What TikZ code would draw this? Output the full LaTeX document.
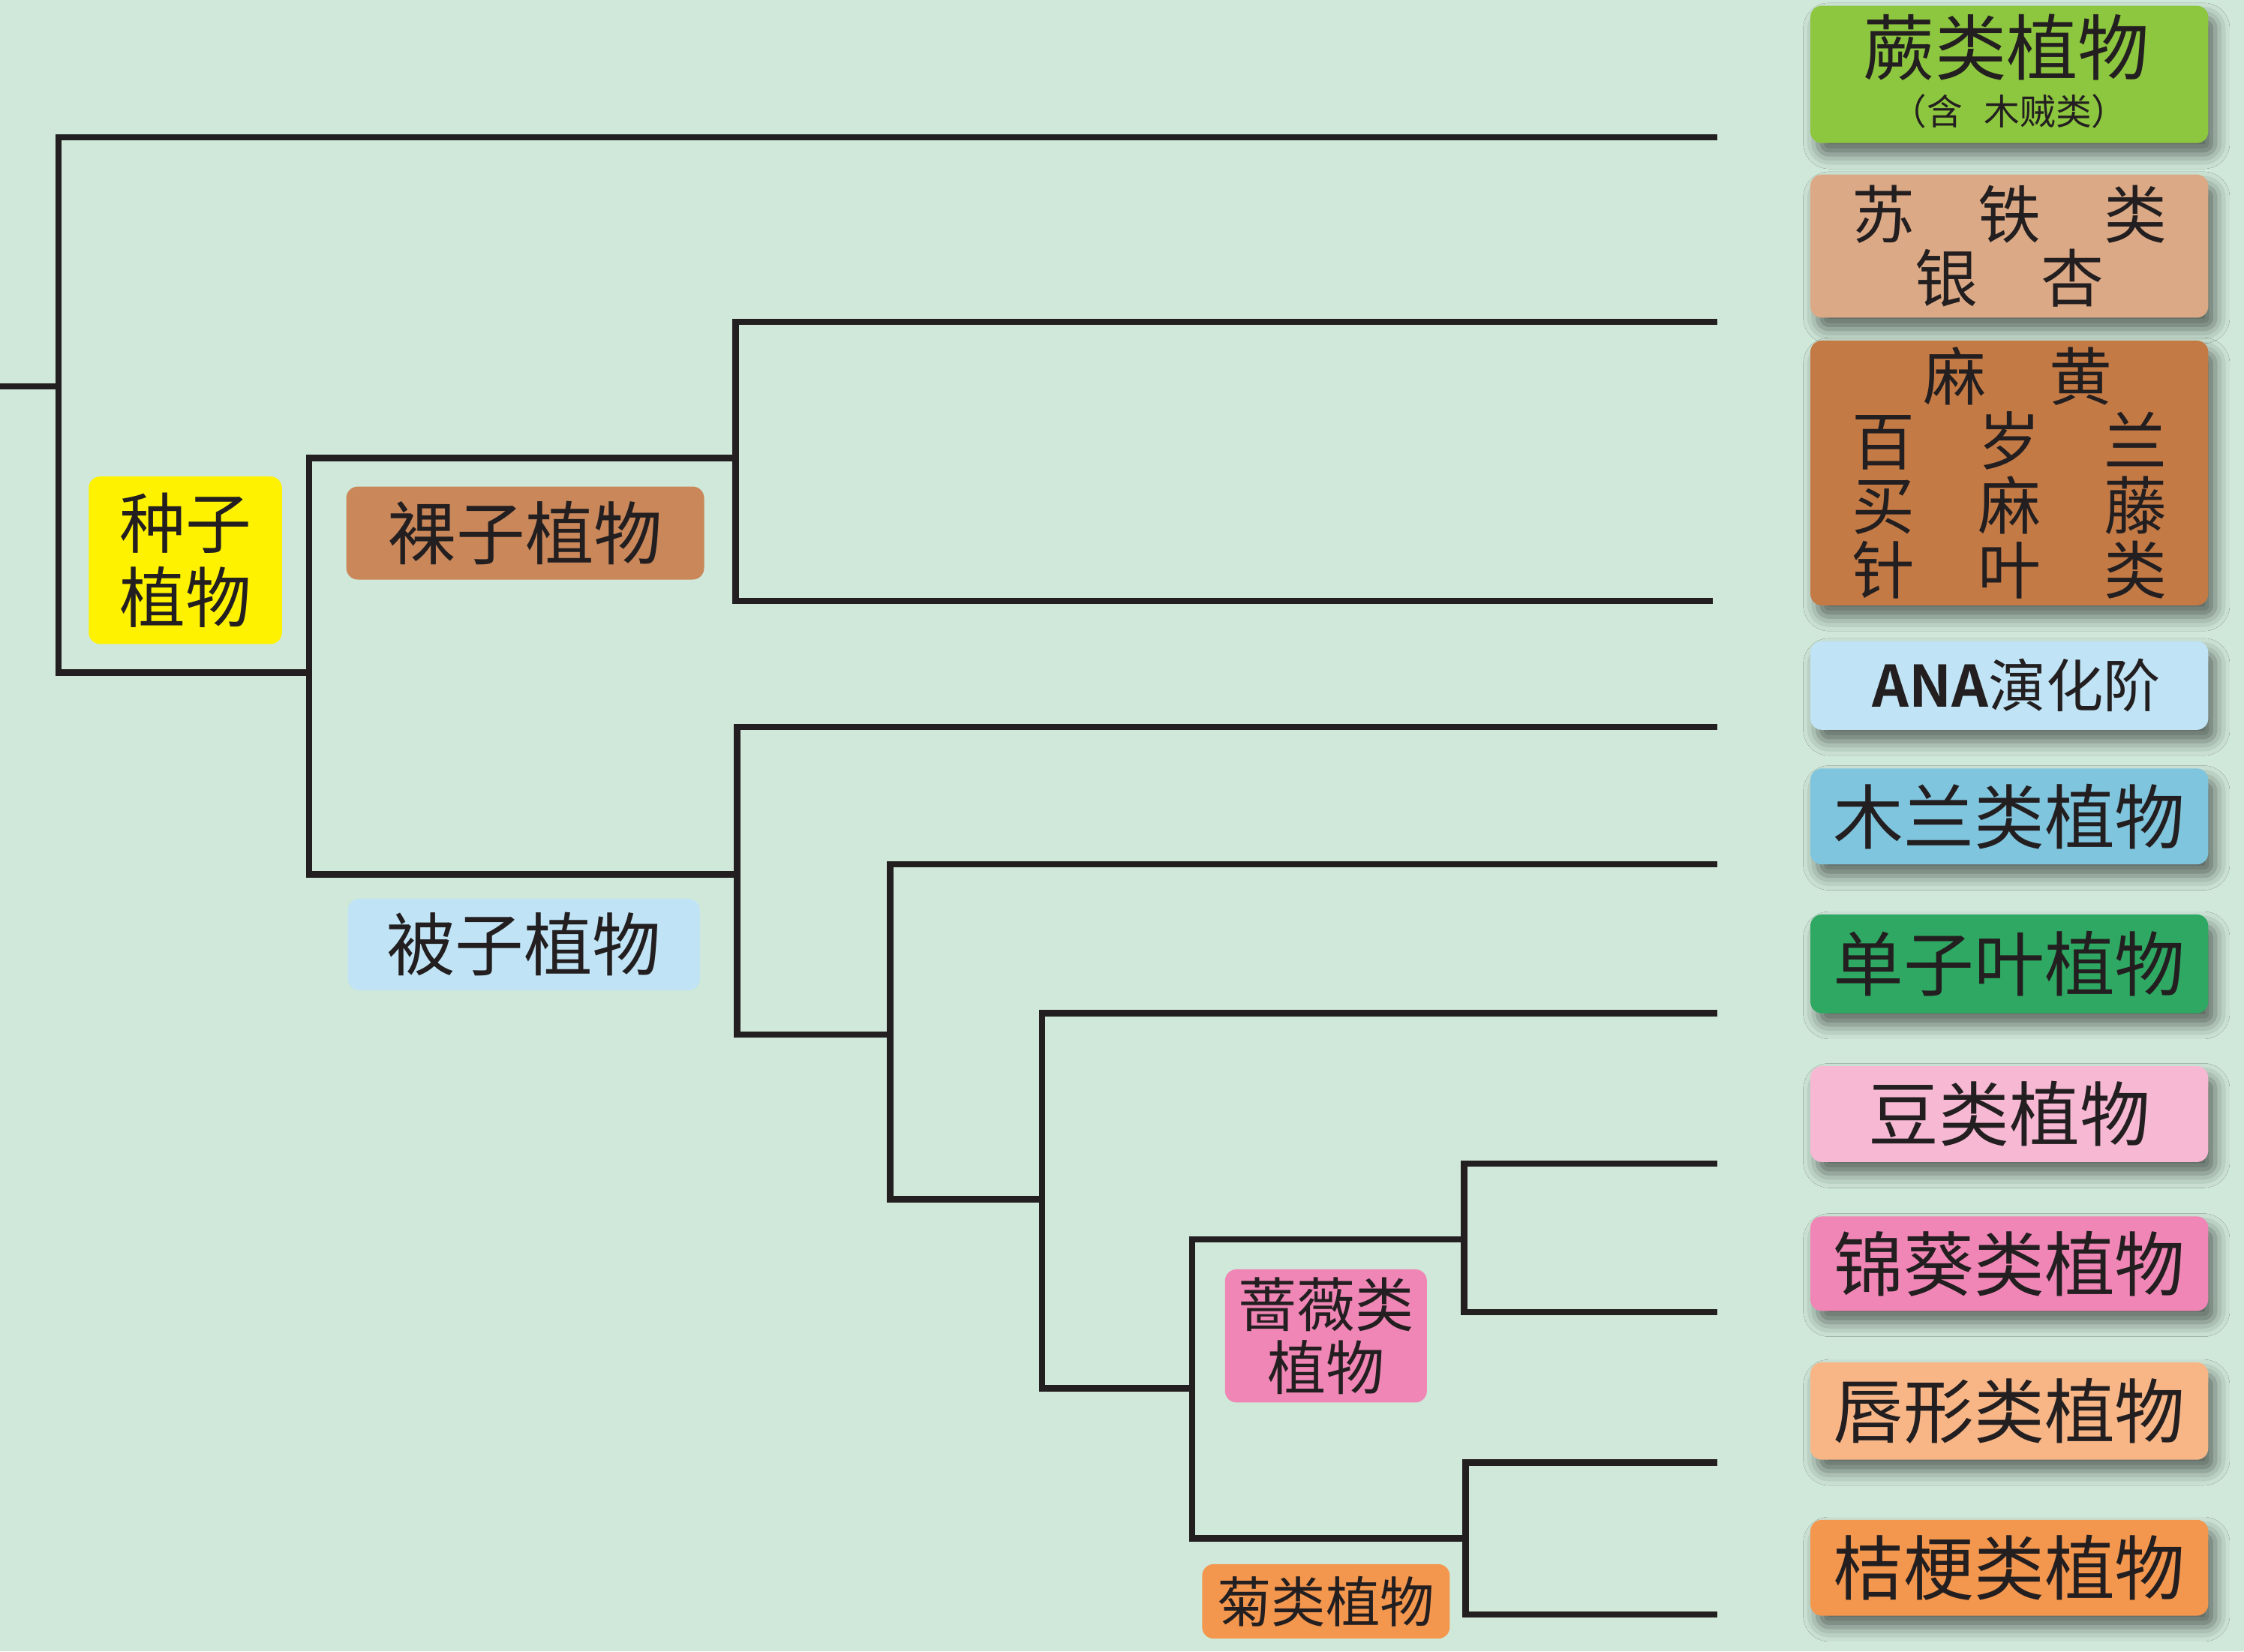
\documentclass[tikz,border=0pt]{standalone}
\usepackage{fontspec}
\setmainfont{Noto Sans CJK SC}[BoldFont={Noto Sans CJK SC Bold}]
\usetikzlibrary{shadows.blur}

\definecolor{bgGreen}{HTML}{D0E8D9}
\definecolor{inkDark}{HTML}{231F20}
\definecolor{fernGreen}{HTML}{8DC63F}
\definecolor{cycadTan}{HTML}{DBA985}
\definecolor{gnetBrown}{HTML}{C47A45}
\definecolor{anaBlue}{HTML}{C0E4F5}
\definecolor{magBlue}{HTML}{80C5DE}
\definecolor{monoGreen}{HTML}{2EA862}
\definecolor{legPink}{HTML}{F6B8D2}
\definecolor{malPink}{HTML}{EF86B5}
\definecolor{lamOrange}{HTML}{F8B687}
\definecolor{camOrange}{HTML}{F3964E}
\definecolor{seedYellow}{HTML}{FFF200}
\definecolor{gymBrown}{HTML}{C9875A}

\tikzset{
	branch/.style={draw=inkDark, line width=2.2pt, line join=miter},
	cladebox/.style={rounded corners=4pt, inner sep=0pt, align=center, text=inkDark,
		minimum width=139pt, font=\fontsize{24.6}{28}\selectfont,
		blur shadow={shadow xshift=2.5pt, shadow yshift=-4pt, shadow blur radius=5pt, shadow opacity=55}},
	tagbox/.style={rounded corners=4pt, inner sep=0pt, align=center, text=inkDark},
}

\begin{document}
\begin{tikzpicture}[x=0.5pt,y=-0.5pt]
	% background, sets the size of the picture
	\fill [bgGreen] (0,0) rectangle (1568,1154);
	\useasboundingbox (0,0) rectangle (1568,1154);

	% Branch points
	\coordinate (root) at (0,270);
	\coordinate (vasc) at (41,270);
	\coordinate (seed) at (216,470);
	\coordinate (gym) at (514,320);
	\coordinate (ang) at (515,611);
	\coordinate (mesa) at (622,723);
	\coordinate (magmono) at (728,838);
	\coordinate (eud) at (833,970);
	\coordinate (ros) at (1023,866);
	\coordinate (ast) at (1024,1075);
	% Tip ends
	\coordinate (fernEnd) at (1200,96);
	\coordinate (cycEnd) at (1200,225);
	\coordinate (gnetEnd) at (1197,420);
	\coordinate (anaEnd) at (1200,508);
	\coordinate (magEnd) at (1200,604);
	\coordinate (monoEnd) at (1200,708);
	\coordinate (legEnd) at (1200,813);
	\coordinate (malEnd) at (1200,917);
	\coordinate (lamEnd) at (1200,1022);
	\coordinate (camEnd) at (1200,1128);

	% Connection
	\draw [branch] (root) -- (vasc);
	\draw [branch] (fernEnd) -| (vasc) |- (seed);
	\draw [branch] (gym) -| (seed) |- (ang);
	\draw [branch] (cycEnd) -| (gym) |- (gnetEnd);
	\draw [branch] (anaEnd) -| (ang) |- (mesa);
	\draw [branch] (magEnd) -| (mesa) |- (magmono);
	\draw [branch] (monoEnd) -| (magmono) |- (eud);
	\draw [branch] (ros) -| (eud) |- (ast);
	\draw [branch] (legEnd) -| (ros) |- (malEnd);
	\draw [branch] (lamEnd) -| (ast) |- (camEnd);

	% Text Node
	\node (seedTag) at (129.5,391.5) [tagbox, fill=seedYellow, minimum width=67.5pt, minimum height=58.5pt, font=\fontsize{23}{26}\selectfont] {种子\\植物};
	% Text Node
	\node (gymTag) at (367,372.5) [tagbox, fill=gymBrown, minimum width=125pt, minimum height=32.5pt, font=\fontsize{24}{28}\selectfont] {裸子植物};
	% Text Node
	\node (angTag) at (366,660) [tagbox, fill=anaBlue, minimum width=123pt, minimum height=32pt, font=\fontsize{24}{28}\selectfont] {被子植物};
	% Text Node
	\node (rosTag) at (926.5,933.5) [tagbox, fill=malPink, minimum width=70.5pt, minimum height=46.5pt, font=\fontsize{20.5}{22}\selectfont] {蔷薇类\\植物};
	% Text Node
	\node (astTag) at (926.5,1119) [tagbox, fill=camOrange, minimum width=86.5pt, minimum height=26pt, font=\fontsize{19}{22}\selectfont] {菊类植物};

	% Clade boxes
	\node (fern) at (1404,52) [cladebox, fill=fernGreen, minimum height=48pt] {};
	\node (fernTitle) at (1402,33) [inner sep=0pt, text=inkDark, font=\fontsize{25}{28}\selectfont] {蕨类植物};
	\node (fernNote) at (1404,78) [inner sep=0pt, text=inkDark, font=\fontsize{12.5}{14}\selectfont] {（含\hspace{0.6em}木贼类）};
	\node (cycad) at (1404,172) [cladebox, fill=cycadTan, minimum height=50pt, font=\fontsize{22}{22.5}\selectfont] {苏\quad 铁\quad 类\\银\quad 杏};
	\node (gnet) at (1404,330.5) [cladebox, fill=gnetBrown, minimum height=92.5pt, font=\fontsize{22}{22.5}\selectfont] {\hspace*{6pt}麻\quad 黄\\百\quad 岁\quad 兰\\买\quad 麻\quad 藤\\针\quad 叶\quad 类};
	\node (ana) at (1404,479) [cladebox, fill=anaBlue, minimum height=31pt, font=\fontsize{20}{24}\selectfont] {\hspace*{5pt}\textbf{ANA}演化阶};
	\node (mag) at (1404,570.5) [cladebox, fill=magBlue, minimum height=33.5pt] {木兰类植物};
	\node (mono) at (1404,673.5) [cladebox, fill=monoGreen, minimum height=34.5pt] {单子叶植物};
	\node (leg) at (1404,778.5) [cladebox, fill=legPink, minimum height=33.5pt] {豆类植物};
	\node (mal) at (1404,883) [cladebox, fill=malPink, minimum height=33pt] {锦葵类植物};
	\node (lam) at (1404,986) [cladebox, fill=lamOrange, minimum height=34pt] {唇形类植物};
	\node (cam) at (1404,1095.5) [cladebox, fill=camOrange, minimum height=33.5pt] {桔梗类植物};

\end{tikzpicture}
\end{document}
